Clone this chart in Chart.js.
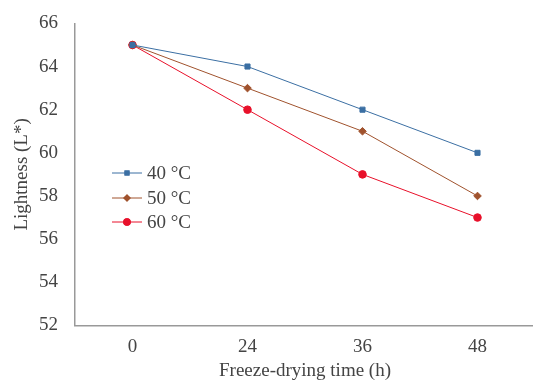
<!DOCTYPE html>
<html>
<head>
<meta charset="utf-8">
<script src="https://cdn.jsdelivr.net/npm/chart.js@4"></script>
<style>
  html, body { margin: 0; padding: 0; background: #fff; overflow: hidden; }
  #wrap { position: relative; width: 540px; height: 386px; }
  #lightChart { position: absolute; left: 0; top: -5px; }
  #legend { position: absolute; left: 112px; top: 161px; font-family: "Liberation Serif", "Times New Roman", serif; font-size: 19px; color: #444; }
  #legend div { height: 24.6px; line-height: 20px; display: flex; align-items: center; }
  #legend canvas { margin-right: 5px; }
</style>
</head>
<body>
<div id="wrap">
  <canvas id="lightChart" width="540" height="391"></canvas>
  <div id="legend"></div>
</div>
<script>
// Lightness vs freeze-drying time
const times = ['0', '24', '36', '48'];
const temps = ['40 °C', '50 °C', '60 °C'];
const l40 = [65, 64, 62, 60];
const l50 = [65, 63, 61, 58];
const l60 = [65, 62, 59, 57];
const yTicks = [52, 54, 56, 58, 60, 62, 64, 66];

const colors = ['#3b6fa3', '#a0522d', '#e8102a'];
const shapes = ['rect', 'rectRot', 'circle'];
const sizes = [3.6, 3.8, 3.8];

const series = [l40, l50, l60];
const font = { family: '"Liberation Serif", "Times New Roman", serif', size: 19 };

const ctx = document.getElementById('lightChart').getContext('2d');
const lightChart = new Chart(ctx, {
  type: 'line',
  data: {
    labels: times,
    datasets: series.map((d, i) => ({
      label: temps[i],
      data: d,
      borderColor: colors[i],
      backgroundColor: colors[i],
      borderWidth: 1,
      pointStyle: shapes[i],
      pointRadius: sizes[i],
      tension: 0
    }))
  },
  options: {
    responsive: false,
    animation: false,
    layout: { padding: { left: 7, right: 0, top: 1, bottom: 0 } },
    plugins: { legend: { display: false }, tooltip: { enabled: false } },
    scales: {
      x: {
        offset: true,
        grid: { display: false, drawTicks: false },
        border: { color: '#999', width: 1.5 },
        ticks: { font: font, color: '#444', padding: 10 },
        title: { display: true, text: 'Freeze-drying time (h)', font: font, color: '#444', padding: { top: -9 } }
      },
      y: {
        min: 52,
        max: 66,
        afterBuildTicks: axis => { axis.ticks = yTicks.map(v => ({ value: v })); },
        afterFit: axis => { axis.width = 68; },
        grid: { display: false, drawTicks: false },
        border: { color: '#999', width: 1.5 },
        ticks: { font: font, color: '#444', padding: 17 },
        title: { display: true, text: 'Lightness (L*)', font: font, color: '#444', padding: { bottom: 0 } }
      }
    }
  }
});

// HTML legend inside the plot
const legend = document.getElementById('legend');
temps.forEach((t, i) => {
  const row = document.createElement('div');
  const c = document.createElement('canvas');
  c.width = 30; c.height = 14;
  const g = c.getContext('2d');
  g.strokeStyle = colors[i];
  g.lineWidth = 1;
  g.beginPath(); g.moveTo(0, 7); g.lineTo(30, 7); g.stroke();
  g.fillStyle = colors[i];
  Chart.helpers.drawPoint(g, { pointStyle: shapes[i], radius: sizes[i], borderWidth: 0 }, 15, 7);
  g.fill();
  row.appendChild(c);
  row.appendChild(document.createTextNode(t));
  legend.appendChild(row);
});
</script>
</body>
</html>
